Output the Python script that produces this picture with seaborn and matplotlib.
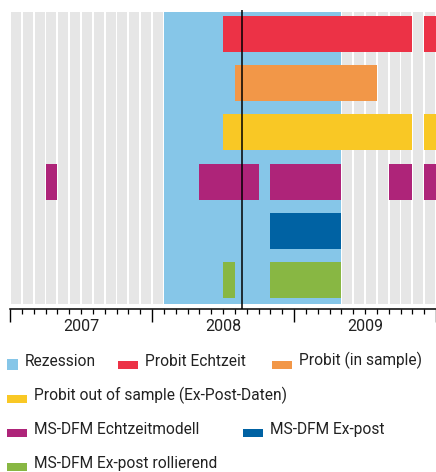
import matplotlib
matplotlib.use("Agg")
import matplotlib.pyplot as plt
from matplotlib.patches import Rectangle
import seaborn as sns

# ---------------- data ----------------
years = ["2007", "2008", "2009"]
start_year = 2007
n_months = 36

recession = [("2008-02", "2009-04")]
event_month = "2008-08"          # vertical marker (mid-month)
event_offset = 0.6

series_names = [
    "Probit Echtzeit",
    "Probit (in sample)",
    "Probit out of sample (Ex-Post-Daten)",
    "MS-DFM Echtzeitmodell",
    "MS-DFM Ex-post",
    "MS-DFM Ex-post rollierend",
]
series_colors = ["#EC3246", "#F29748", "#F9C825", "#AE2479", "#0062A3", "#88B743"]

probit_echtzeit = [("2008-07", "2009-10"), ("2009-12", "2009-12")]
probit_in_sample = [("2008-08", "2009-07")]
probit_oos = [("2008-07", "2009-10"), ("2009-12", "2009-12")]
msdfm_echtzeit = [("2007-04", "2007-04"), ("2008-05", "2008-09"),
                  ("2008-11", "2009-04"), ("2009-09", "2009-10"),
                  ("2009-12", "2009-12")]
msdfm_expost = [("2008-11", "2009-04")]
msdfm_rollierend = [("2008-07", "2008-07"), ("2008-11", "2009-04")]

series_segments = [probit_echtzeit, probit_in_sample, probit_oos,
                   msdfm_echtzeit, msdfm_expost, msdfm_rollierend]

recession_label = "Rezession"
recession_color = "#86C6E8"
grid_color = "#E6E6E6"


def midx(s):
    y, m = s.split("-")
    return (int(y) - start_year) * 12 + int(m) - 1


# ---------------- figure ----------------
sns.set_theme(style="white")
plt.rcParams["font.family"] = ["Roboto", "DejaVu Sans"]

W, H = 436, 472
fig = plt.figure(figsize=(W / 100, H / 100), dpi=100)
ax = fig.add_axes([10 / W, 1 - 309 / H, 1 - 10 / W, 299 / H])

y_top, y_bot = -0.44, 5.48
# month stripes
months = list(range(n_months))
ax.bar([m + 0.5 for m in months], [y_bot - y_top] * n_months, width=0.84,
       bottom=y_top, color=grid_color, linewidth=0, zorder=1)
# recession
for a, b in recession:
    ax.bar(midx(a), y_bot - y_top, width=midx(b) - midx(a) + 1, bottom=y_top,
           align="edge", color=recession_color, linewidth=0, zorder=2)

# series bars
for i, (segs, col) in enumerate(zip(series_segments, series_colors)):
    for a, b in segs:
        ax.barh(i, midx(b) - midx(a) + 1, left=midx(a), height=0.73,
                color=col, linewidth=0, zorder=3)

# event line
ax.axvline(midx(event_month) + event_offset, color="black", lw=1.1, zorder=4)

ax.set_xlim(0, (436 - 10) / 11.92)
ax.set_ylim(5.584, -0.481)

for s in ["top", "right", "left"]:
    ax.spines[s].set_visible(False)
ax.spines["bottom"].set_color("black")
ax.spines["bottom"].set_linewidth(1.1)
ax.set_yticks([])

ax.set_xticks([0, 12, 24, 36])
ax.set_xticklabels([])
ax.set_xticks(months, minor=True)
ax.set_xticklabels(["" for _ in months], minor=True)
ax.tick_params(axis="x", which="major", direction="out", length=9.4, width=1.0,
               color="black", bottom=True)
ax.tick_params(axis="x", which="minor", direction="out", length=3.6, width=0.9,
               color="black", bottom=True)
for k, yl in enumerate(years):
    ax.text(12 * k + 6, 5.584 + 18 / 49.3, yl, ha="center", va="center",
            fontsize=11.5, color="#222222")

# ---------------- legend ----------------
leg_items = [(recession_label, recession_color, "square")] + \
    [(n, c, "rect") for n, c in zip(series_names, series_colors)]
leg_rows = [0, 0, 0, 1, 2, 2, 3]
leg_x = [7, 118, 272, 7, 7, 243, 7]
row_y0, row_dy = 364.5, 34.2

for (lab, col, kind), r, x in zip(leg_items, leg_rows, leg_x):
    yc = row_y0 + r * row_dy
    if kind == "square":
        w, h = 11, 11
    else:
        w, h = 20, 8
    fig.patches.append(Rectangle((x / W, 1 - (yc + h / 2) / H), w / W, h / H,
                                 transform=fig.transFigure, color=col,
                                 linewidth=0))
    fig.text((x + w + 7) / W, 1 - (yc + 1) / H, lab, ha="left", va="baseline",
             fontsize=11.2, color="#222222")

fig.savefig("out.png", dpi=100)
